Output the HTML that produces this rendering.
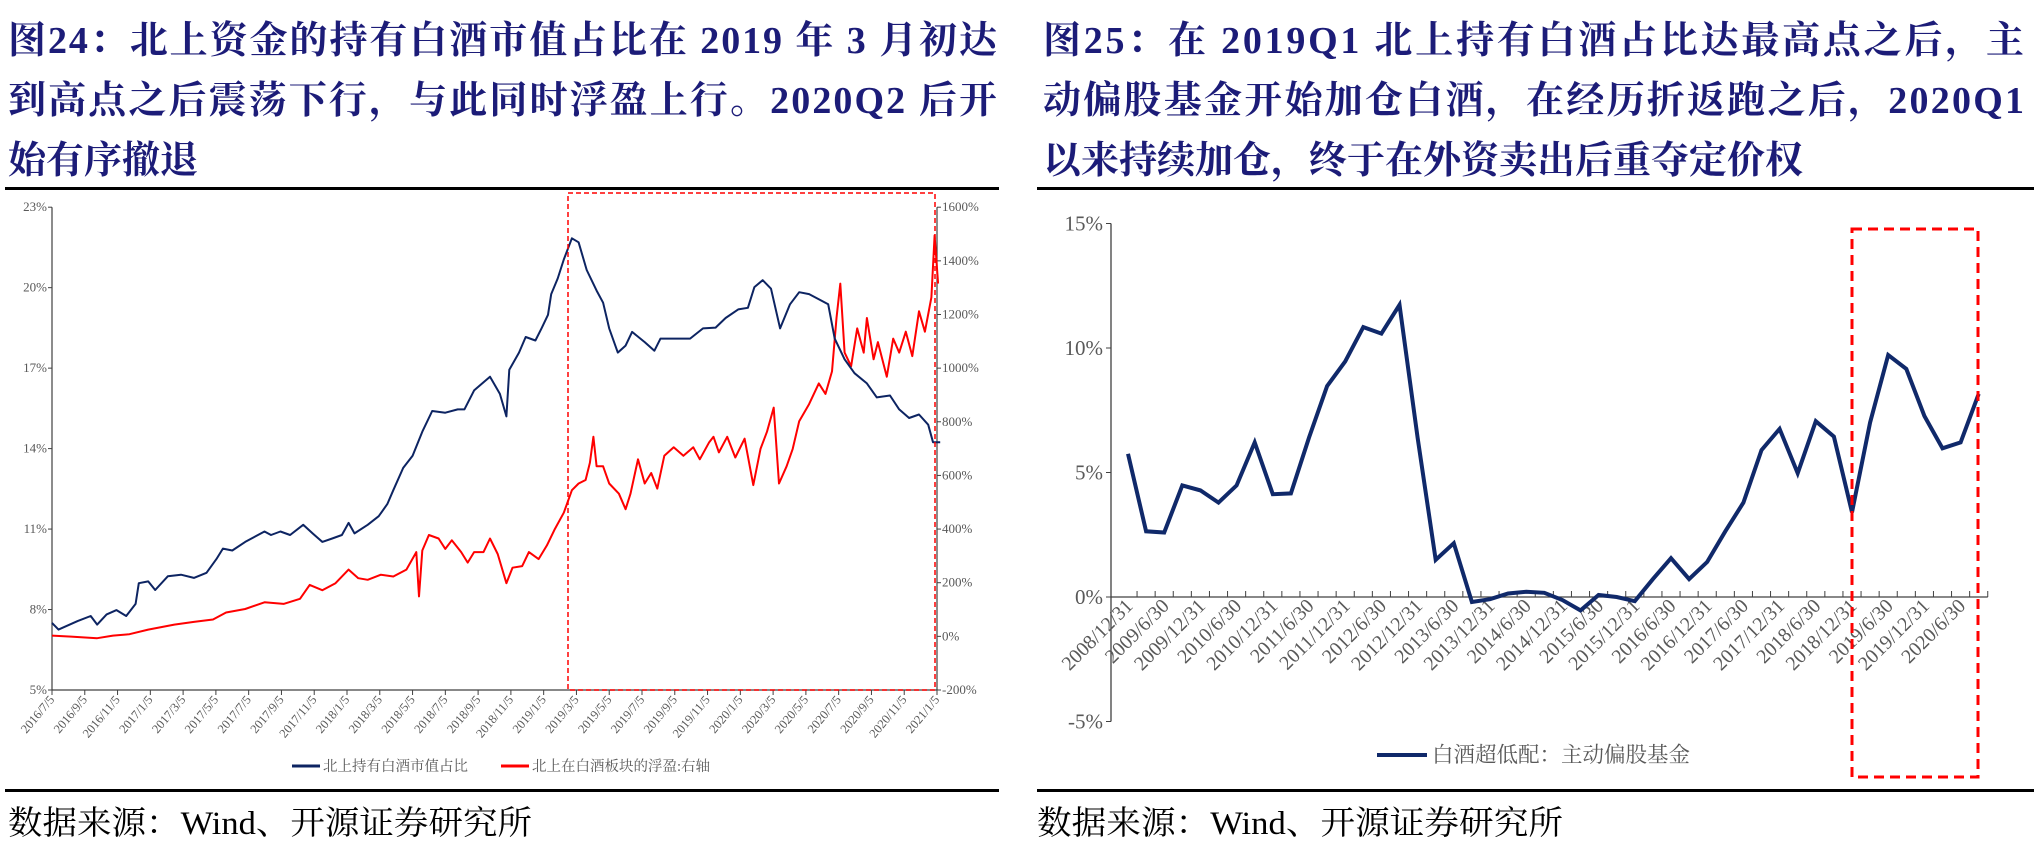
<!DOCTYPE html>
<html><head><meta charset="utf-8"><style>
html,body{margin:0;padding:0;background:#fff;}
svg{display:block;}
.ttl{font-family:"Liberation Serif","Noto Serif CJK SC",serif;font-weight:bold;font-size:38px;fill:#1c1c78;}
.src{font-family:"Liberation Serif","Noto Serif CJK SC",serif;font-size:33px;fill:#000;}
.tk{font-family:"Liberation Serif","Noto Serif CJK SC",serif;fill:#595959;}
</style></head><body>
<svg id="root" width="2034" height="851" viewBox="0 0 2034 851" xmlns="http://www.w3.org/2000/svg">
<g>
<text class="ttl" x="8" y="53" textLength="989" lengthAdjust="spacing">图24：北上资金的持有白酒市值占比在 2019 年 3 月初达</text>
<text class="ttl" x="8" y="113" textLength="989" lengthAdjust="spacing">到高点之后震荡下行，与此同时浮盈上行。2020Q2 后开</text>
<text class="ttl" x="8" y="173">始有序撤退</text>
</g>
<g>
<text class="ttl" x="1043" y="53" textLength="981" lengthAdjust="spacing">图25：在 2019Q1 北上持有白酒占比达最高点之后，主</text>
<text class="ttl" x="1043" y="113" textLength="981" lengthAdjust="spacing">动偏股基金开始加仓白酒，在经历折返跑之后，2020Q1</text>
<text class="ttl" x="1043" y="173">以来持续加仓，终于在外资卖出后重夺定价权</text>
</g>
<rect x="5" y="187" width="994" height="3" fill="#000"/>
<rect x="1037" y="187" width="997" height="3" fill="#000"/>
<rect x="5" y="789" width="994" height="3" fill="#000"/>
<rect x="1037" y="789" width="997" height="3" fill="#000"/>
<text class="src" x="8" y="834" textLength="524" lengthAdjust="spacingAndGlyphs">数据来源：Wind、开源证券研究所</text>
<text class="src" x="1037" y="834" textLength="526" lengthAdjust="spacingAndGlyphs">数据来源：Wind、开源证券研究所</text>
<g id="left"></g>
<g id="right"></g>
</svg>
<script>
// ---------- Left chart data ----------
const blueDates = ["2016/7/5","2016/7/17","2016/8/22","2016/9/16","2016/9/28","2016/10/15","2016/11/3","2016/11/21","2016/12/8","2016/12/14","2017/1/1","2017/1/14","2017/2/7","2017/3/1","2017/3/25","2017/4/18","2017/5/6","2017/5/18","2017/6/5","2017/6/29","2017/8/4","2017/8/16","2017/9/3","2017/9/21","2017/10/15","2017/11/2","2017/11/20","2017/12/8","2017/12/26","2018/1/8","2018/1/19","2018/2/13","2018/3/3","2018/3/19","2018/3/30","2018/4/18","2018/5/5","2018/5/23","2018/6/11","2018/7/5","2018/7/28","2018/8/10","2018/8/28","2018/9/27","2018/10/15","2018/10/27","2018/11/2","2018/11/20","2018/12/2","2018/12/20","2019/1/1","2019/1/13","2019/1/19","2019/1/31","2019/2/12","2019/2/27","2019/3/9","2019/3/24","2019/4/12","2019/4/24","2019/5/5","2019/5/21","2019/6/5","2019/6/17","2019/7/10","2019/7/28","2019/8/9","2019/9/3","2019/10/3","2019/10/27","2019/11/20","2019/12/8","2020/1/1","2020/1/19","2020/1/31","2020/2/16","2020/3/1","2020/3/18","2020/4/6","2020/4/23","2020/5/11","2020/5/29","2020/6/16","2020/6/28","2020/7/16","2020/8/4","2020/8/27","2020/9/15","2020/10/9","2020/10/26","2020/11/14","2020/12/2","2020/12/19","2020/12/28","2021/1/11"];
const blueValues = [7.5,7.25,7.57,7.76,7.44,7.82,7.98,7.76,8.21,8.98,9.05,8.73,9.24,9.3,9.18,9.37,9.88,10.27,10.2,10.52,10.91,10.78,10.91,10.78,11.16,10.84,10.52,10.65,10.78,11.23,10.84,11.16,11.48,11.93,12.45,13.28,13.73,14.63,15.4,15.34,15.46,15.46,16.17,16.68,16.04,15.2,16.94,17.58,18.16,18.03,18.48,18.99,19.76,20.34,21.05,21.84,21.69,20.66,19.89,19.44,18.48,17.58,17.84,18.35,17.97,17.65,18.1,18.1,18.1,18.48,18.51,18.87,19.19,19.25,20.02,20.28,19.96,18.48,19.38,19.83,19.76,19.57,19.38,18.1,17.33,16.81,16.43,15.91,15.98,15.46,15.14,15.27,14.89,14.24,14.24];
const redDates = ["2016/7/5","2016/8/10","2016/9/28","2016/10/27","2016/11/27","2017/1/1","2017/2/19","2017/3/25","2017/4/30","2017/5/24","2017/6/29","2017/8/4","2017/9/9","2017/10/9","2017/10/27","2017/11/20","2017/12/14","2018/1/8","2018/1/26","2018/2/13","2018/3/7","2018/3/30","2018/4/24","2018/5/12","2018/5/17","2018/5/23","2018/6/5","2018/6/23","2018/7/5","2018/7/17","2018/8/4","2018/8/16","2018/8/28","2018/9/15","2018/9/27","2018/10/11","2018/10/27","2018/11/8","2018/11/26","2018/12/8","2018/12/26","2019/1/11","2019/1/25","2019/2/12","2019/2/27","2019/3/9","2019/3/22","2019/3/30","2019/4/6","2019/4/12","2019/4/24","2019/5/5","2019/5/23","2019/6/5","2019/6/14","2019/6/28","2019/7/10","2019/7/22","2019/8/3","2019/8/16","2019/9/3","2019/9/21","2019/10/9","2019/10/21","2019/11/8","2019/11/16","2019/11/26","2019/12/11","2019/12/26","2020/1/13","2020/1/29","2020/2/12","2020/2/24","2020/3/6","2020/3/16","2020/3/30","2020/4/11","2020/4/23","2020/5/11","2020/5/29","2020/6/11","2020/6/23","2020/7/1","2020/7/8","2020/7/16","2020/7/28","2020/8/9","2020/8/21","2020/8/27","2020/9/9","2020/9/17","2020/10/3","2020/10/15","2020/10/26","2020/11/8","2020/11/20","2020/12/2","2020/12/13","2020/12/25","2020/12/31","2021/1/7"];
const redValues = [3,-1,-7,3,8,25,44,54,63,89,102,127,121,140,192,172,198,249,217,211,230,223,249,314,149,320,378,365,326,358,314,275,314,314,365,307,198,256,262,314,288,339,397,461,545,570,583,647,744,634,634,570,532,474,532,660,570,609,551,673,705,673,705,660,724,744,686,744,667,737,564,699,763,853,570,634,699,802,866,943,904,988,1187,1315,1058,1007,1148,1058,1187,1033,1097,968,1110,1058,1136,1045,1212,1136,1264,1495,1315];
const leftTicks = ["2016/7/5","2016/9/5","2016/11/5","2017/1/5","2017/3/5","2017/5/5","2017/7/5","2017/9/5","2017/11/5","2018/1/5","2018/3/5","2018/5/5","2018/7/5","2018/9/5","2018/11/5","2019/1/5","2019/3/5","2019/5/5","2019/7/5","2019/9/5","2019/11/5","2020/1/5","2020/3/5","2020/5/5","2020/7/5","2020/9/5","2020/11/5","2021/1/5"];
const leftYTicks = [5,8,11,14,17,20,23];
const rightYTicks = [-200,0,200,400,600,800,1000,1200,1400,1600];

// ---------- Right chart data ----------
const qLabels = ["2008/12/31","2009/6/30","2009/12/31","2010/6/30","2010/12/31","2011/6/30","2011/12/31","2012/6/30","2012/12/31","2013/6/30","2013/12/31","2014/6/30","2014/12/31","2015/6/30","2015/12/31","2016/6/30","2016/12/31","2017/6/30","2017/12/31","2018/6/30","2018/12/31","2019/6/30","2019/12/31","2020/6/30"];
const qValues = [5.75,2.64,2.59,4.48,4.28,3.79,4.48,6.21,4.13,4.16,6.40,8.47,9.46,10.84,10.58,11.73,6.40,1.49,2.16,-0.2,-0.09,0.14,0.21,0.17,-0.12,-0.54,0.08,0.0,-0.17,0.72,1.56,0.72,1.41,2.64,3.79,5.90,6.75,4.97,7.06,6.44,3.40,7.01,9.72,9.16,7.27,5.97,6.21,8.16];
const rYTicks = [-5,0,5,10,15];

const NS = "http://www.w3.org/2000/svg";
function mk(tag, attrs, parent, txt){
  const e = document.createElementNS(NS, tag);
  for (const k in attrs) e.setAttribute(k, attrs[k]);
  if (txt !== undefined) e.textContent = txt;
  parent.appendChild(e); return e;
}
function monthOff(s){ const [y,m,d] = s.split("/").map(Number); return (y-2016)*12 + (m-7) + (d-5)/30.4; }

// ---- left ----
const L = document.getElementById("left");
const lx0 = 52, lx1 = 937, ly0 = 207.2, ly1 = 690;
const lxS = m => lx0 + m*(lx1-lx0)/54;
const lyS = v => ly1 - (v-5)/(23-5)*(ly1-ly0);
const ryS = v => ly1 - (v+200)/1800*(ly1-ly0);

let e;
e = mk("line",{x1:lx0,y1:ly0,x2:lx0,y2:ly1,stroke:"#404040","stroke-width":1.2},L);
 
e = mk("line",{x1:lx1,y1:ly0,x2:lx1,y2:ly1,stroke:"#404040","stroke-width":1.2},L);
 
e = mk("line",{x1:lx0,y1:ly1,x2:lx1,y2:ly1,stroke:"#404040","stroke-width":1.2},L);
 
leftYTicks.forEach(v=>{
  const y = lyS(v);
  mk("line",{x1:lx0-4,y1:y,x2:lx0,y2:y,stroke:"#404040"},L);
  const t = mk("text",{x:lx0-5,y:y+4,"text-anchor":"end","font-size":13,class:"tk"},L,v+"%");
   
});
rightYTicks.forEach(v=>{
  const y = ryS(v);
  mk("line",{x1:lx1,y1:y,x2:lx1+4,y2:y,stroke:"#404040"},L);
  const t = mk("text",{x:lx1+5,y:y+4,"font-size":13,class:"tk"},L,v+"%");
   
});
leftTicks.forEach(s=>{
  const x = lxS(monthOff(s));
  mk("line",{x1:x,y1:ly1,x2:x,y2:ly1+5,stroke:"#404040"},L);
  const t = mk("text",{x:x+3,y:ly1+10,"text-anchor":"end","font-size":12.5,class:"tk",transform:`rotate(-50 ${x+3} ${ly1+10})`},L,s);
   
});
e = mk("path",{d:redDates.map((s,i)=>(i?"L":"M")+lxS(monthOff(s)).toFixed(1)+","+ryS(redValues[i]).toFixed(1)).join(""),fill:"none",stroke:"#ff0000","stroke-width":2,"stroke-linejoin":"round"},L);
 
e = mk("path",{d:blueDates.map((s,i)=>(i?"L":"M")+lxS(monthOff(s)).toFixed(1)+","+lyS(blueValues[i]).toFixed(1)).join(""),fill:"none",stroke:"#0d2462","stroke-width":2,"stroke-linejoin":"round"},L);
 
e = mk("rect",{x:568,y:193,width:367,height:497,fill:"none",stroke:"#ff0000","stroke-width":1.5,"stroke-dasharray":"5,3"},L);
 
e = mk("line",{x1:292,y1:766,x2:320,y2:766,stroke:"#0d2462","stroke-width":3},L);
 
e = mk("text",{x:323,y:771,"font-size":14.5,class:"tk"},L,"北上持有白酒市值占比");
 
e = mk("line",{x1:501,y1:766,x2:529,y2:766,stroke:"#ff0000","stroke-width":3},L);
 
e = mk("text",{x:532,y:771,"font-size":14.5,class:"tk"},L,"北上在白酒板块的浮盈:右轴");
 

// ---- right ----
const R = document.getElementById("right");
const rAxisX = 1111, rFirst = 1128, bw = 18.1, rz = 597, rstep = 124.5;
const rx1 = rFirst + bw*(qValues.length-0.5);
const qx = i => rFirst + bw*i;
const qy = v => rz - v/5*rstep;
e = mk("line",{x1:rAxisX,y1:qy(15),x2:rAxisX,y2:qy(-5),stroke:"#404040","stroke-width":1.3},R);
 
rYTicks.forEach(v=>{
  const y = qy(v);
  mk("line",{x1:rAxisX-5,y1:y,x2:rAxisX,y2:y,stroke:"#404040"},R);
  const t = mk("text",{x:rAxisX-8,y:y+7,"text-anchor":"end","font-size":21,class:"tk"},R,v+"%");
   
});
e = mk("line",{x1:rAxisX,y1:rz,x2:rx1,y2:rz,stroke:"#404040","stroke-width":1.3},R);
 
for(let i=0;i<qValues.length;i++){ const x = qx(i)+bw/2; mk("line",{x1:x,y1:rz-6,x2:x,y2:rz,stroke:"#404040"},R); }
qLabels.forEach((s,j)=>{
  const x = qx(j*2)+6;
  const t = mk("text",{x:x,y:rz+10,"text-anchor":"end","font-size":20,class:"tk",transform:`rotate(-45 ${x} ${rz+10})`},R,s);
   
});
e = mk("path",{d:qValues.map((v,i)=>(i?"L":"M")+qx(i).toFixed(1)+","+qy(v).toFixed(1)).join(""),fill:"none",stroke:"#10296a","stroke-width":4,"stroke-linejoin":"miter"},R);
 
e = mk("rect",{x:1852,y:229,width:126,height:548,fill:"none",stroke:"#ff0000","stroke-width":3,"stroke-dasharray":"10,6"},R);
 
e = mk("line",{x1:1377,y1:755,x2:1427,y2:755,stroke:"#10296a","stroke-width":4},R);
 
e = mk("text",{x:1432,y:762,"font-size":21.5,class:"tk"},R,"白酒超低配：主动偏股基金");
 
</script>
</body></html>
